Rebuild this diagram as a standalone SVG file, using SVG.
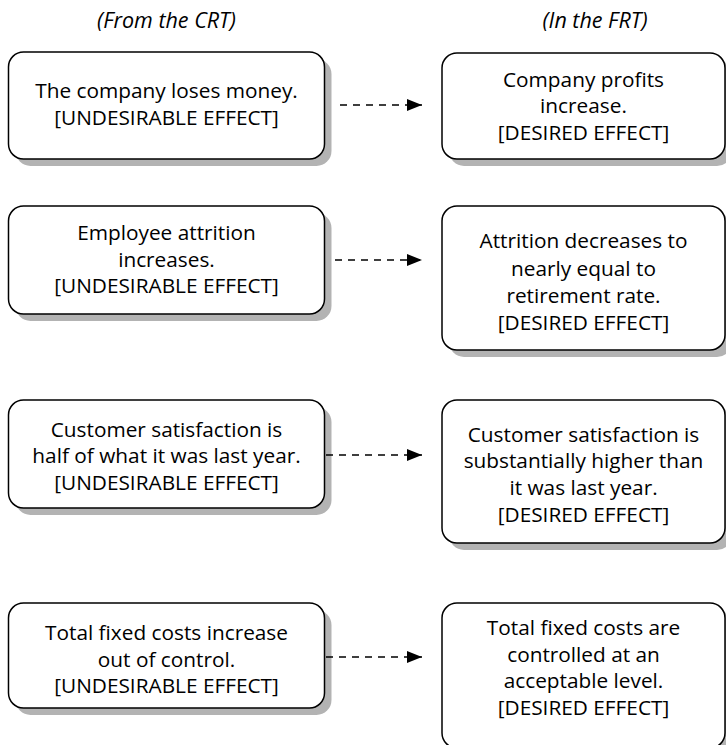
<svg xmlns="http://www.w3.org/2000/svg" width="726" height="745" viewBox="0 0 726 745">
  <defs>
    <style>
      .box { fill: #ffffff; stroke: #000000; stroke-width: 1.5; }
      .shadow { fill: #b3b3b3; stroke: none; }
      .label { font-family: "Open Sans", "Noto Sans", "Liberation Sans", sans-serif; font-size: 20.8px; fill: #000000; text-anchor: middle; }
      .head { font-family: "Open Sans", "Noto Sans", "Liberation Sans", sans-serif; font-size: 21.5px; font-style: italic; fill: #000000; text-anchor: middle; }
      .link { stroke: #000000; stroke-width: 1.3; stroke-dasharray: 7 6; fill: none; }
    </style>
    <marker id="arrow" viewBox="0 0 15 12" refX="15" refY="6" markerWidth="15" markerHeight="12" markerUnits="userSpaceOnUse" orient="auto">
      <path d="M0,0 L15,6 L0,12 Z" fill="#000000"/>
    </marker>
  </defs>

  <rect width="726" height="745" fill="#ffffff"/>

  <!-- column headings -->
  <text class="head" x="166.5" y="28">(From the CRT)</text>
  <text class="head" x="595" y="28">(In the FRT)</text>

  <!-- undesirable effects (left column) -->
  <g id="ude-money">
    <rect class="shadow" x="15.5" y="59" width="316" height="107" rx="15"/>
    <rect class="box" x="8.5" y="52" width="316" height="107" rx="15"/>
    <text class="label" x="166.5" y="98">The company loses money.</text>
    <text class="label" x="166.5" y="125">[UNDESIRABLE EFFECT]</text>
  </g>
  <g id="ude-attrition">
    <rect class="shadow" x="15.5" y="213" width="316" height="108" rx="15"/>
    <rect class="box" x="8.5" y="206" width="316" height="108" rx="15"/>
    <text class="label" x="166.5" y="240">Employee attrition</text>
    <text class="label" x="166.5" y="267">increases.</text>
    <text class="label" x="166.5" y="293">[UNDESIRABLE EFFECT]</text>
  </g>
  <g id="ude-satisfaction">
    <rect class="shadow" x="15.5" y="407" width="316" height="108" rx="15"/>
    <rect class="box" x="8.5" y="400" width="316" height="108" rx="15"/>
    <text class="label" x="166.5" y="437">Customer satisfaction is</text>
    <text class="label" x="166.5" y="463">half of what it was last year.</text>
    <text class="label" x="166.5" y="490">[UNDESIRABLE EFFECT]</text>
  </g>
  <g id="ude-costs">
    <rect class="shadow" x="15.5" y="610" width="316" height="105" rx="15"/>
    <rect class="box" x="8.5" y="603" width="316" height="105" rx="15"/>
    <text class="label" x="166.5" y="640">Total fixed costs increase</text>
    <text class="label" x="166.5" y="667">out of control.</text>
    <text class="label" x="166.5" y="693">[UNDESIRABLE EFFECT]</text>
  </g>

  <!-- desired effects (right column) -->
  <g id="de-profits">
    <rect class="shadow" x="449" y="60" width="283" height="106" rx="15"/>
    <rect class="box" x="442" y="53" width="283" height="106" rx="15"/>
    <text class="label" x="583.5" y="87">Company profits</text>
    <text class="label" x="583.5" y="113">increase.</text>
    <text class="label" x="583.5" y="140">[DESIRED EFFECT]</text>
  </g>
  <g id="de-attrition">
    <rect class="shadow" x="449" y="213" width="283" height="144" rx="15"/>
    <rect class="box" x="442" y="206" width="283" height="144" rx="15"/>
    <text class="label" x="583.5" y="248">Attrition decreases to</text>
    <text class="label" x="583.5" y="276">nearly equal to</text>
    <text class="label" x="583.5" y="303">retirement rate.</text>
    <text class="label" x="583.5" y="330">[DESIRED EFFECT]</text>
  </g>
  <g id="de-satisfaction">
    <rect class="shadow" x="449" y="407" width="283" height="143" rx="15"/>
    <rect class="box" x="442" y="400" width="283" height="143" rx="15"/>
    <text class="label" x="583.5" y="442">Customer satisfaction is</text>
    <text class="label" x="583.5" y="468">substantially higher than</text>
    <text class="label" x="583.5" y="495">it was last year.</text>
    <text class="label" x="583.5" y="522">[DESIRED EFFECT]</text>
  </g>
  <g id="de-costs">
    <rect class="shadow" x="449" y="610" width="283" height="145" rx="15"/>
    <rect class="box" x="442" y="603" width="283" height="145" rx="15"/>
    <text class="label" x="583.5" y="635">Total fixed costs are</text>
    <text class="label" x="583.5" y="662">controlled at an</text>
    <text class="label" x="583.5" y="688">acceptable level.</text>
    <text class="label" x="583.5" y="715">[DESIRED EFFECT]</text>
  </g>

  <!-- dashed transition links -->
  <g id="links">
    <line class="link" x1="340" y1="105" x2="422" y2="105" marker-end="url(#arrow)"/>
    <line class="link" x1="335" y1="260" x2="422" y2="260" marker-end="url(#arrow)"/>
    <line class="link" x1="326" y1="455" x2="422" y2="455" marker-end="url(#arrow)"/>
    <line class="link" x1="326" y1="657" x2="422" y2="657" marker-end="url(#arrow)"/>
  </g>
</svg>
